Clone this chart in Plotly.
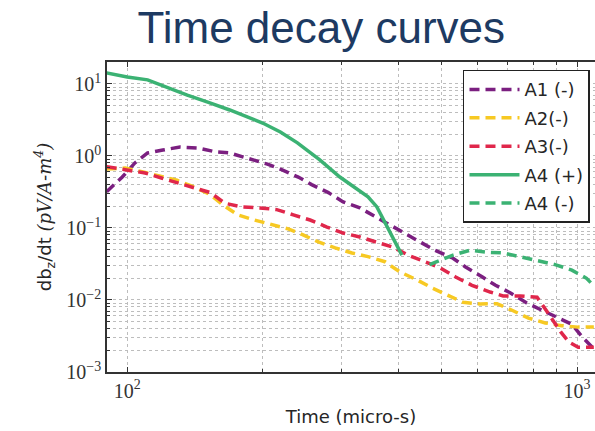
import plotly.graph_objects as go

# ---- data ----
a1_x = [90, 97.5, 104, 111, 120, 131, 144, 157, 169, 188, 205, 221, 240, 257, 280, 302, 329, 355, 384, 415,
        483, 530, 564, 615, 659, 710, 773, 836, 901, 974, 1030, 1090]
a1_y = [0.32, 0.51, 0.80, 1.10, 1.21, 1.33, 1.29, 1.14, 1.10, 0.91, 0.77, 0.64, 0.51, 0.40, 0.31, 0.23, 0.19,
        0.145, 0.11, 0.085, 0.049, 0.038, 0.029, 0.021, 0.016, 0.0126, 0.0091, 0.0072, 0.0058, 0.0046, 0.0030, 0.0021]

a2_x = [90, 99, 108.5, 118, 129, 141, 153, 163, 176, 191, 208, 228, 246, 266, 290, 316, 343, 374, 404, 441,
        476, 514, 558, 609, 664, 717, 780, 850, 925, 1006, 1090]
a2_y = [0.66, 0.68, 0.60, 0.53, 0.46, 0.37, 0.29, 0.21, 0.152, 0.13, 0.114, 0.097, 0.080, 0.064, 0.053, 0.045,
        0.040, 0.034, 0.0245, 0.019, 0.0147, 0.0117, 0.0093, 0.0088, 0.0089, 0.0072, 0.0056, 0.0048, 0.0044,
        0.0042, 0.0042]

a3_x = [90, 100.5, 109.6, 119.6, 130, 141.6, 153, 165, 180, 197, 215, 234, 255, 278, 302, 329, 359, 390, 421,
        459, 496, 536, 584, 641, 685, 748, 815, 850, 880, 920, 960, 1006, 1090]
a3_y = [0.71, 0.64, 0.58, 0.49, 0.42, 0.36, 0.31, 0.22, 0.196, 0.19, 0.18, 0.152, 0.129, 0.103, 0.085, 0.075,
        0.064, 0.054, 0.042, 0.034, 0.028, 0.021, 0.016, 0.0129, 0.0114, 0.0114, 0.0109, 0.0075, 0.0055,
        0.0036, 0.0026, 0.0022, 0.0022]

a4p_x = [90, 100, 111, 123, 136, 151, 169, 200, 219, 239, 268, 297, 343, 359, 378, 408]
a4p_y = [14.2, 12.5, 11.4, 8.8, 7.0, 5.6, 4.35, 2.87, 2.15, 1.52, 0.88, 0.51, 0.27, 0.196, 0.103, 0.042]

a4m_x = [470, 483, 509, 530, 578, 634, 685, 748, 815, 894, 974, 1050, 1090]
a4m_y = [0.031, 0.033, 0.038, 0.042, 0.049, 0.046, 0.045, 0.040, 0.035, 0.031, 0.026, 0.020, 0.0157]

series = [
    ("A1 (-)", a1_x, a1_y, "#7b1f80", "10px,6px"),
    ("A2(-)", a2_x, a2_y, "#f7c923", "10px,6px"),
    ("A3(-)", a3_x, a3_y, "#e0274b", "10px,6px"),
    ("A4 (+)", a4p_x, a4p_y, "#3bb273", "solid"),
    ("A4 (-)", a4m_x, a4m_y, "#3bb273", "10px,6px"),
]

x_ticks = [100, 1000]
x_ticktext = ["10<sup>2</sup>", "10<sup>3</sup>"]
y_ticks = [1e-3, 1e-2, 1e-1, 1, 10]
y_ticktext = ["10<sup>−3</sup>", "10<sup>−2</sup>", "10<sup>−1</sup>", "10<sup>0</sup>", "10<sup>1</sup>"]

minor_x = [k * 10 ** n for n in (1, 2, 3) for k in range(2, 10)]
minor_y = [k * 10.0 ** n for n in (-3, -2, -1, 0, 1) for k in range(2, 10)]

fig = go.Figure()
for i, (name, xs, ys, col, dash) in enumerate(series):
    fig.add_trace(go.Scatter(
        x=xs, y=ys, mode="lines", name=name, legendgroup=f"g{i}",
        line=dict(color=col, width=3.5, dash=dash),
    ))

grid_col = "#bdbdbd"
tickfont = dict(family="Liberation Serif", size=20, color="#333333")
labfont = dict(family="DejaVu Sans", size=18, color="#262626")

fig.update_layout(
    width=595, height=431,
    margin=dict(l=107, r=0, t=62, b=59),
    paper_bgcolor="white", plot_bgcolor="white",
    title=dict(text="Time decay curves", x=0.54, xanchor="center", y=0.935, yanchor="middle",
               yref="container",
               font=dict(family="Liberation Sans", size=44, color="#1d3a62")),
    showlegend=True,
    legend=dict(x=0.7295, y=0.975, xanchor="left", yanchor="top",
                bgcolor="white", bordercolor="#222222", borderwidth=1.5,
                font=labfont, tracegroupgap=2, itemwidth=50),
    xaxis=dict(type="log", range=[1.955, 3.04],
               tickmode="array", tickvals=x_ticks, ticktext=x_ticktext, tickfont=tickfont,
               showline=True, linecolor="#333333", linewidth=1.5, mirror="ticks",
               ticks="inside", ticklen=5, tickcolor="#333333",
               showgrid=True, gridcolor=grid_col, griddash="dot", gridwidth=1,
               minor=dict(tickmode="array", tickvals=minor_x, ticks="inside", ticklen=3,
                          tickcolor="#333333", showgrid=True, gridcolor=grid_col,
                          griddash="dot", gridwidth=1),
               zeroline=False,
               title=dict(text="Time (micro-s)", standoff=10, font=labfont)),
    yaxis=dict(type="log", range=[-3, 1.305],
               tickmode="array", tickvals=y_ticks, ticktext=y_ticktext, tickfont=tickfont,
               showline=True, linecolor="#333333", linewidth=1.5, mirror=False,
               ticks="inside", ticklen=5, tickcolor="#333333",
               showgrid=True, gridcolor=grid_col, griddash="dot", gridwidth=1,
               minor=dict(tickmode="array", tickvals=minor_y, ticks="inside", ticklen=3,
                          tickcolor="#333333", showgrid=True, gridcolor=grid_col,
                          griddash="dot", gridwidth=1),
               zeroline=False,
               title=dict(text="db<sub>z</sub>/dt <span style='font-family:DejaVu Serif'>"
                               "<i>(pV/A-m<sup>4</sup>)</i></span>",
                          standoff=10, font=labfont)),
)

fig.write_html("out.html")
